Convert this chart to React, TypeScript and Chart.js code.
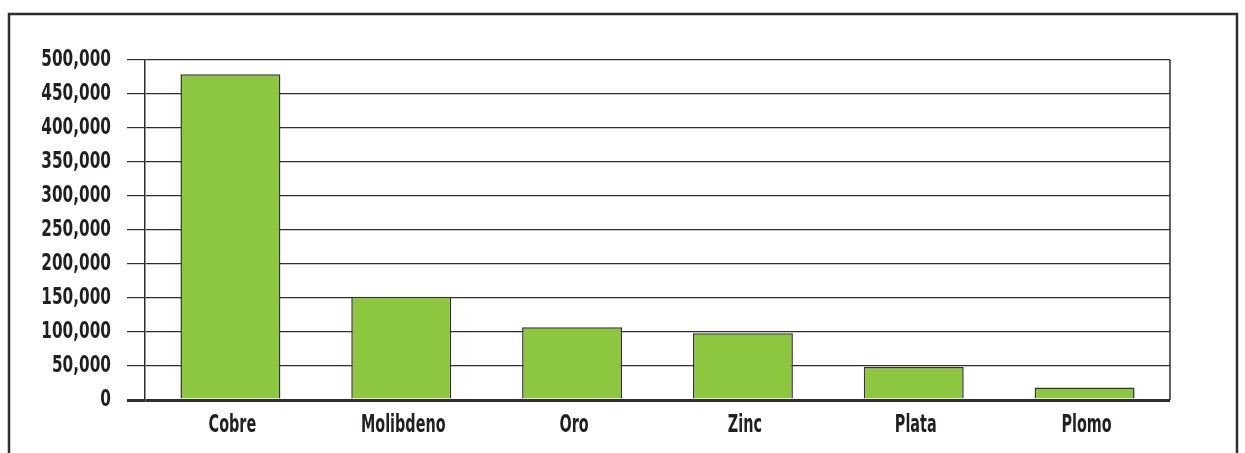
import React, { useEffect, useRef } from "react";
import { Chart, registerables } from "chart.js";

Chart.register(...registerables);

const categories = ["Cobre", "Molibdeno", "Oro", "Zinc", "Plata", "Plomo"];
const values = [479000, 152000, 107000, 98000, 48500, 18500];
const yMax = 500000;
const yStep = 50000;

const FONT = "'DejaVu Sans Condensed', 'DejaVu Sans', sans-serif";

const fmt = (v: any) => Number(v).toLocaleString("en-US");

const framePlugin = {
  id: "frame",
  beforeDraw(chart: any) {
    const ctx = chart.ctx;
    ctx.save();
    ctx.fillStyle = "#ffffff";
    ctx.fillRect(0, 0, chart.width, chart.height);
    ctx.strokeStyle = "#2e2e2e";
    ctx.lineWidth = 2.5;
    ctx.beginPath();
    ctx.moveTo(9, chart.height + 5);
    ctx.lineTo(9, 14);
    ctx.lineTo(1237, 14);
    ctx.lineTo(1237, chart.height + 5);
    ctx.stroke();
    ctx.restore();
  },
  afterDatasetsDraw(chart: any) {
    const { ctx, chartArea } = chart;
    ctx.save();
    ctx.strokeStyle = "#2e2e2e";
    ctx.lineWidth = 1.5;
    ctx.beginPath();
    ctx.moveTo(chartArea.right, chartArea.top);
    ctx.lineTo(chartArea.right, chartArea.bottom);
    ctx.stroke();
    ctx.restore();
  },
  afterDraw(chart: any) {
    const ctx = chart.ctx;
    const ys = chart.scales.y;
    const xs = chart.scales.x;
    ctx.save();
    ctx.fillStyle = "#231f20";
    ctx.textBaseline = "middle";
    ctx.font = `bold 23px ${FONT}`;
    ctx.textAlign = "right";
    ys.ticks.forEach((t: any) => {
      const y = ys.getPixelForValue(t.value);
      ctx.save();
      ctx.translate(111, y);
      ctx.scale(0.74, 1);
      ctx.fillText(fmt(t.value), 0, 0);
      ctx.restore();
    });
    ctx.font = `bold 25px ${FONT}`;
    ctx.textAlign = "center";
    categories.forEach((c, i) => {
      const x = xs.getPixelForValue(i) + 2;
      ctx.save();
      ctx.translate(x, 425);
      ctx.scale(0.64, 1);
      ctx.fillText(c, 0, 0);
      ctx.restore();
    });
    ctx.restore();
  },
};

export default function App() {
  const ref = useRef<HTMLCanvasElement>(null);
  useEffect(() => {
    const chart = new Chart(ref.current!, {
      type: "bar",
      data: {
        labels: categories,
        datasets: [
          {
            data: values,
            backgroundColor: "#8dc63f",
            borderColor: "#333333",
            borderWidth: 1.5,
            categoryPercentage: 1,
            barPercentage: 0.585,
          },
        ],
      },
      options: {
        responsive: false,
        animation: false,
        maintainAspectRatio: false,
        layout: { padding: { left: 0, right: 75, top: 60, bottom: 0 } },
        plugins: { legend: { display: false }, tooltip: { enabled: false } },
        scales: {
          x: {
            grid: { display: false },
            border: { display: false },
            ticks: {
              color: "rgba(0,0,0,0)",
              font: { family: FONT, size: 21, weight: "bold" },
              padding: 10,
            },
            afterFit(scale: any) {
              scale.height = 53;
            },
          },
          y: {
            min: 0,
            max: yMax,
            border: { display: true, color: "#2e2e2e", width: 1.5 },
            grid: {
              color: "#2e2e2e",
              lineWidth: (c: any) => (c.tick && c.tick.value === 0 ? 3 : 1.2),
              tickLength: 18,
              drawTicks: true,
            },
            ticks: {
              stepSize: yStep,
              padding: 17,
              color: "rgba(0,0,0,0)",
              font: { family: FONT, size: 22, weight: "bold" },
              callback: (v: any) => fmt(v),
            },
            afterFit(scale: any) {
              scale.width = 145;
            },
          },
        },
      },
      plugins: [framePlugin],
    });
    return () => chart.destroy();
  }, []);
  return (
    <div style={{ position: "fixed", left: 0, top: 0, width: 1245, height: 453, background: "#fff" }}>
      <canvas ref={ref} width={1245} height={453} style={{ width: 1245, height: 453, display: "block" }} />
    </div>
  );
}
